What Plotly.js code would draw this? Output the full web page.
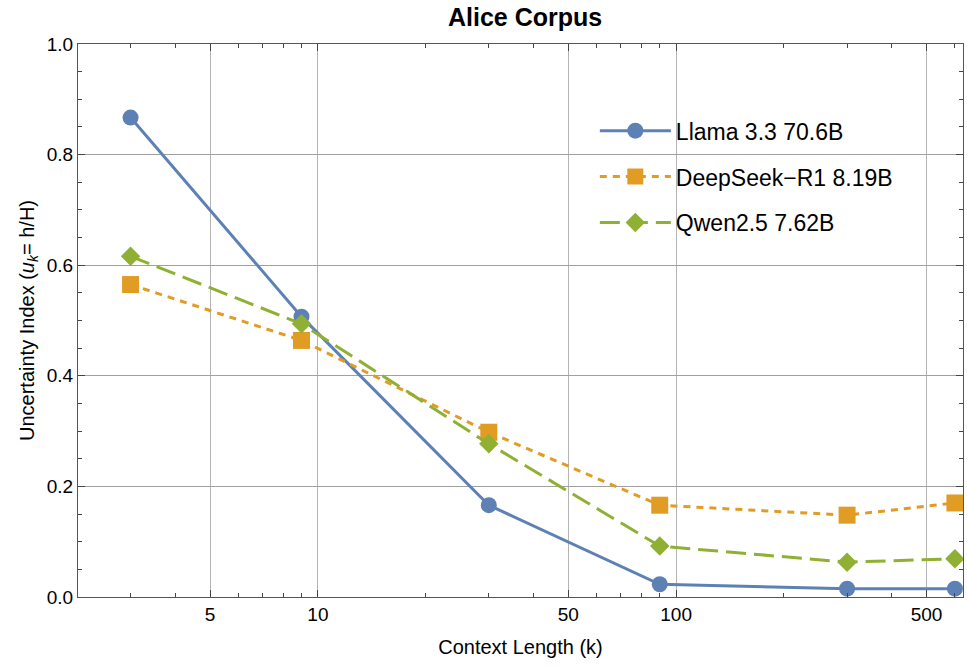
<!DOCTYPE html>
<html>
<head>
<meta charset="utf-8">
<script src="https://cdn.plot.ly/plotly-3.0.1.min.js"></script>
<style>html,body{margin:0;padding:0;background:#fff;}#chart{width:967px;height:666px;}</style>
</head>
<body>
<div id="chart"></div>
<script>
const contextLength = [3, 9, 30, 90, 300, 600];
const llama = [0.867, 0.507, 0.166, 0.023, 0.015, 0.015];
const deepseek = [0.565, 0.464, 0.298, 0.166, 0.148, 0.170];
const qwen = [0.616, 0.494, 0.277, 0.092, 0.063, 0.069];
const seriesNames = ["Llama 3.3 70.6B", "DeepSeek\u2212R1 8.19B", "Qwen2.5 7.62B"];
const xTickVals = [5, 10, 50, 100, 500];
const xTickText = ["5", "10", "50", "100", "500"];
const xMinorVals = [3, 4, 6, 7, 8, 9, 20, 30, 40, 60, 70, 80, 90, 200, 300, 400, 600];

const traces = [
  {x: contextLength, y: llama, name: seriesNames[0], mode: 'lines+markers', legendgroup: 'a',
   line: {color: '#5E81B5', width: 3},
   marker: {symbol: 'circle', size: 16, color: '#5E81B5'}},
  {x: contextLength, y: deepseek, name: seriesNames[1], mode: 'lines+markers', legendgroup: 'b',
   line: {color: '#E19C24', width: 3, dash: '7px,6px'},
   marker: {symbol: 'square', size: 17, color: '#E19C24'}},
  {x: contextLength, y: qwen, name: seriesNames[2], mode: 'lines+markers', legendgroup: 'c',
   line: {color: '#8FB032', width: 3, dash: '20px,8px'},
   marker: {symbol: 'diamond', size: 15, color: '#8FB032'}}
];

const layout = {
  width: 967, height: 666,
  margin: {l: 77.5, r: 4, t: 44, b: 69},
  paper_bgcolor: '#fff', plot_bgcolor: '#fff',
  font: {family: 'Liberation Sans, Arial, sans-serif', size: 19, color: '#000'},
  title: {text: '<b>Alice Corpus</b>', xref: 'container', x: 0.543, xanchor: 'center', y: 0.9745, yanchor: 'middle',
          font: {size: 25, family: 'Liberation Sans, Arial, sans-serif', color: '#000'}},
  xaxis: {
    type: 'log', range: [Math.log10(2.14), Math.log10(632)],
    tickmode: 'array', tickvals: xTickVals, ticktext: xTickText,
    ticks: 'inside', ticklen: 7, tickcolor: '#444', mirror: 'ticks',
    showline: true, linecolor: '#555', linewidth: 1.3,
    showgrid: true, gridcolor: '#b4b4b4', gridwidth: 1.2,
    zeroline: false,
    minor: {tickmode: 'array', tickvals: xMinorVals, ticks: 'inside', ticklen: 4, tickcolor: '#444', showgrid: false},
    title: {text: 'Context Length (k)', standoff: 16, font: {size: 20}},
    tickfont: {size: 19}
  },
  yaxis: {
    range: [0, 1.0], tickvals: [0, 0.2, 0.4, 0.6, 0.8, 1.0], ticktext: ['0.0','0.2','0.4','0.6','0.8','1.0'],
    ticks: 'inside', ticklen: 7, tickcolor: '#444', mirror: 'ticks',
    showline: true, linecolor: '#555', linewidth: 1.3,
    showgrid: true, gridcolor: '#a0a0a0', gridwidth: 1.2,
    zeroline: false,
    minor: {dtick: 0.05, ticks: 'inside', ticklen: 4, tickcolor: '#444', showgrid: false},
    title: {text: 'Uncertainty Index (<i>u</i><sub><i>k</i></sub>= h/H)', standoff: 6, font: {size: 20}},
    tickfont: {size: 19}
  },
  showlegend: true,
  legend: {x: 0.584, y: 0.882, xanchor: 'left', yanchor: 'top', bgcolor: 'rgba(255,255,255,0)',
           font: {size: 23}, traceorder: 'grouped', tracegroupgap: 13, itemwidth: 71}
};

Plotly.newPlot('chart', traces, layout, {displayModeBar: false, responsive: false});
</script>
</body>
</html>
